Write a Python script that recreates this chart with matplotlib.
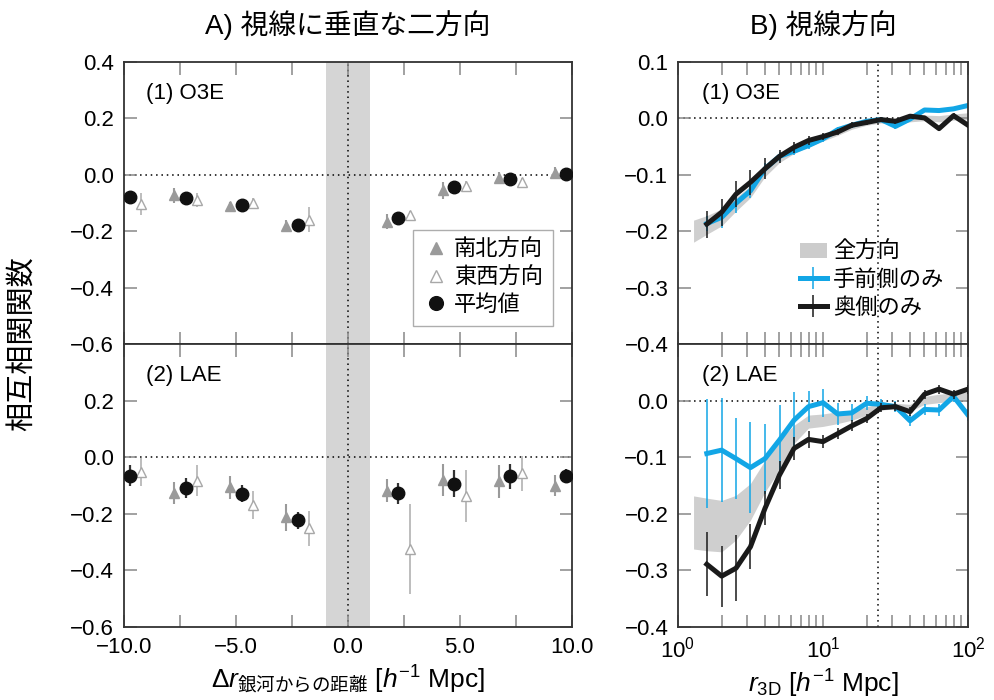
import numpy as np
import matplotlib.pyplot as plt
from matplotlib.ticker import FuncFormatter, NullFormatter, LogLocator
from matplotlib.patches import Patch

plt.rcParams['font.family'] = ['Liberation Sans', 'Noto Sans CJK JP']
plt.rcParams['mathtext.fontset'] = 'custom'
plt.rcParams['mathtext.rm'] = 'Liberation Sans'
plt.rcParams['mathtext.it'] = 'Liberation Sans:italic'
plt.rcParams['mathtext.bf'] = 'Liberation Sans:bold'
plt.rcParams['mathtext.sf'] = 'Noto Sans CJK JP'

# A) separation from galaxy (mean points), triangles sit 0.5 either side
sep = np.array([-9.75, -7.25, -4.75, -2.25, 2.25, 4.75, 7.25, 9.75])

# (1) O3E
o3e_ns = [-0.075, -0.072, -0.110, -0.180, -0.166, -0.054, -0.010, 0.007]
o3e_ns_err = [0.020, 0.027, 0.015, 0.020, 0.027, 0.030, 0.020, 0.020]
o3e_ew = [-0.103, -0.089, -0.101, -0.158, -0.143, -0.040, -0.026, 0.000]
o3e_ew_err = [0.038, 0.025, 0.020, 0.044, 0.015, 0.020, 0.015, 0.020]
o3e_mean = [-0.078, -0.080, -0.107, -0.177, -0.152, -0.042, -0.016, 0.003]
o3e_mean_err = [0.012, 0.012, 0.010, 0.012, 0.012, 0.012, 0.010, 0.010]

# (2) LAE
lae_ns = [-0.080, -0.125, -0.106, -0.212, -0.117, -0.079, -0.085, -0.100]
lae_ns_err = [0.040, 0.038, 0.041, 0.047, 0.040, 0.056, 0.060, 0.037]
lae_ew = [-0.052, -0.082, -0.167, -0.250, -0.324, -0.138, -0.055, -0.060]
lae_ew_err = [0.050, 0.055, 0.050, 0.062, 0.158, 0.092, 0.062, 0.050]
lae_mean = [-0.064, -0.107, -0.129, -0.223, -0.127, -0.093, -0.067, -0.065]
lae_mean_err = [0.038, 0.035, 0.030, 0.030, 0.038, 0.047, 0.043, 0.025]

# B) line of sight, r3D
r3d = [1.58, 2.0, 2.51, 3.16, 3.98, 5.01, 6.31, 7.94, 10.0, 12.6, 15.8,
       20.0, 25.1, 31.6, 39.8, 50.1, 63.1, 79.4, 100.0]
band_r = [1.28] + r3d

o3e_all_lo = [-0.219, -0.205, -0.190, -0.164, -0.140, -0.103, -0.078, -0.062, -0.050, -0.040,
              -0.030, -0.019, -0.012, -0.008, -0.011, -0.006, -0.004, -0.006, -0.003, -0.002]
o3e_all_hi = [-0.180, -0.172, -0.160, -0.140, -0.119, -0.086, -0.064, -0.050, -0.040, -0.030,
              -0.021, -0.011, -0.004, 0.000, -0.002, 0.004, 0.006, 0.005, 0.008, 0.010]
o3e_near = [-0.186, -0.175, -0.150, -0.128, -0.089, -0.067, -0.058, -0.048, -0.036, -0.020,
            -0.012, -0.005, -0.002, -0.014, -0.001, 0.015, 0.014, 0.017, 0.023]
o3e_near_err = [0.013, 0.019, 0.018, 0.012, 0.010, 0.008, 0.007, 0.006, 0.005, 0.005,
                0.004, 0.004, 0.004, 0.004, 0.004, 0.004, 0.004, 0.004, 0.004]
o3e_far = [-0.187, -0.166, -0.134, -0.113, -0.089, -0.067, -0.051, -0.039, -0.032, -0.024,
           -0.012, -0.007, -0.002, -0.005, 0.004, 0.001, -0.018, 0.005, -0.012]
o3e_far_err = [0.024, 0.024, 0.023, 0.022, 0.019, 0.012, 0.010, 0.008, 0.007, 0.006,
               0.005, 0.005, 0.004, 0.004, 0.004, 0.004, 0.004, 0.004, 0.004]

lae_all_lo = [-0.262, -0.265, -0.267, -0.246, -0.211, -0.161, -0.122, -0.075, -0.048, -0.045,
              -0.040, -0.034, -0.025, -0.016, -0.014, -0.018, -0.006, -0.003, 0.000, 0.002]
lae_all_hi = [-0.168, -0.172, -0.176, -0.167, -0.146, -0.105, -0.069, -0.043, -0.025, -0.023,
              -0.019, -0.019, -0.010, -0.004, -0.004, -0.006, 0.008, 0.012, 0.014, 0.016]
lae_near = [-0.093, -0.087, -0.102, -0.118, -0.102, -0.069, -0.034, -0.010, -0.003, -0.023,
            -0.021, -0.004, -0.006, -0.010, -0.035, -0.015, -0.016, 0.008, -0.025]
lae_near_err = [0.097, 0.092, 0.072, 0.080, 0.062, 0.061, 0.050, 0.028, 0.025, 0.020,
                0.015, 0.012, 0.010, 0.010, 0.010, 0.010, 0.010, 0.010, 0.010]
lae_far = [-0.289, -0.310, -0.296, -0.258, -0.190, -0.131, -0.084, -0.068, -0.072, -0.058,
           -0.044, -0.031, -0.012, -0.010, -0.019, 0.012, 0.021, 0.012, 0.021]
lae_far_err = [0.057, 0.054, 0.058, 0.040, 0.030, 0.025, 0.020, 0.015, 0.012, 0.010,
               0.010, 0.008, 0.008, 0.008, 0.008, 0.008, 0.008, 0.008, 0.008]

blue = '#12a6e6'
dotted = (0, (1, 2.5))

def minus_fmt(v, pos):
    return f'{v:.1f}'.replace('-', '\u2212')

fig = plt.figure(figsize=(9.94, 7.0), dpi=100)
axA1 = fig.add_axes([0.1247, 0.5079, 0.4507, 0.4036])
axA2 = fig.add_axes([0.1247, 0.1043, 0.4507, 0.4036])
axB1 = fig.add_axes([0.6821, 0.5079, 0.2918, 0.4036])
axB2 = fig.add_axes([0.6821, 0.1043, 0.2918, 0.4036])

for ax in (axA1, axA2, axB1, axB2):
    ax.tick_params(which='both', direction='in', top=True, right=True, length=9,
                   width=1.1, color='#888888', labelsize=16, pad=7)
    for s in ax.spines.values():
        s.set_color('#333333')
        s.set_linewidth(1.3)
    ax.axhline(0, color='k', ls=dotted, lw=1.1, zorder=1)

# A) two directions perpendicular to line of sight
panelsA = [(axA1, '(1) O3E', o3e_ns, o3e_ns_err, o3e_ew, o3e_ew_err, o3e_mean, o3e_mean_err),
           (axA2, '(2) LAE', lae_ns, lae_ns_err, lae_ew, lae_ew_err, lae_mean, lae_mean_err)]
for ax, name, ns, ns_e, ew, ew_e, mn, mn_e in panelsA:
    ax.axvspan(-1, 1, color='#d5d5d5', lw=0, zorder=0)
    ax.axvline(0, color='k', ls=dotted, lw=1.1, zorder=1)
    c1 = ax.errorbar(sep - 0.5, ns, yerr=ns_e, fmt='^', ms=7.5, color='#9a9a9a',
                     elinewidth=1.5, capsize=0, zorder=3)
    c2 = ax.errorbar(sep + 0.5, ew, yerr=ew_e, fmt='^', ms=7.5, mfc='white', mec='#a8a8a8',
                     mew=1.0, ecolor='#b8b8b8', elinewidth=1.3, capsize=0, zorder=3)
    c3 = ax.errorbar(sep, mn, yerr=mn_e, fmt='o', ms=9, color='#111111', ecolor='#333333',
                     elinewidth=1.6, capsize=0, zorder=4)
    ax.text(0.05, 0.89, name, transform=ax.transAxes, fontsize=16, va='center')
    ax.set_xlim(-10, 10)
    ax.set_ylim(-0.6, 0.4)
    ax.set_xticks(np.arange(-10, 10.1, 2.5))
    ax.xaxis.set_major_formatter(FuncFormatter(lambda v, p: minus_fmt(v, p) if v % 5 == 0 else ''))
    ax.yaxis.set_major_formatter(FuncFormatter(minus_fmt))

axA1.set_yticks([-0.6, -0.4, -0.2, 0.0, 0.2, 0.4])
axA2.set_yticks([-0.6, -0.4, -0.2, 0.0, 0.2])
axA1.tick_params(labelbottom=False)
leg = axA1.legend([c1[0], c2[0], c3[0]], ['南北方向', '東西方向', '平均値'], loc='lower right',
                  bbox_to_anchor=(0.958, 0.065), borderaxespad=0, fontsize=16, fancybox=False,
                  edgecolor='#999999', handletextpad=0.2, handlelength=1.2, labelspacing=0.3,
                  borderpad=0.45, markerscale=1.1)
leg.get_frame().set_linewidth(1.0)
axA1.set_title('A) 視線に垂直な二方向', fontsize=20, pad=20)
axA2.set_xlabel(r'$\Delta r_{\mathsf{銀河からの距離}}$ [$h^{-1}$ Mpc]', fontsize=19, labelpad=4)

# B) line of sight
panelsB = [(axB1, '(1) O3E', o3e_all_lo, o3e_all_hi, o3e_near, o3e_near_err, o3e_far, o3e_far_err),
           (axB2, '(2) LAE', lae_all_lo, lae_all_hi, lae_near, lae_near_err, lae_far, lae_far_err)]
for ax, name, lo, hi, near, near_e, far, far_e in panelsB:
    ax.set_xscale('log')
    ax.fill_between(band_r, lo, hi, color='#cfcfcf', lw=0, zorder=1)
    ax.axvline(24, color='k', ls=dotted, lw=1.1, zorder=1)
    e1 = ax.errorbar(r3d, near, yerr=near_e, color=blue, lw=3.6, elinewidth=1.1, capsize=0, zorder=2)
    e2 = ax.errorbar(r3d, far, yerr=far_e, color='#1a1a1a', lw=3.6, elinewidth=1.1, capsize=0, zorder=3)
    ax.text(0.083, 0.89, name, transform=ax.transAxes, fontsize=16, va='center')
    ax.set_xlim(1, 100)
    ax.xaxis.set_major_locator(LogLocator(base=10, numticks=5))
    ax.xaxis.set_minor_locator(LogLocator(base=10, subs=np.arange(2, 10), numticks=20))
    ax.xaxis.set_minor_formatter(NullFormatter())
    ax.yaxis.set_major_formatter(FuncFormatter(minus_fmt))

axB1.set_ylim(-0.4, 0.1)
axB2.set_ylim(-0.4, 0.1)
axB1.set_yticks([-0.4, -0.3, -0.2, -0.1, 0.0, 0.1])
axB2.set_yticks([-0.4, -0.3, -0.2, -0.1, 0.0])
axB1.tick_params(labelbottom=False)
axB1.legend([Patch(facecolor='#cccccc'), e1, e2], ['全方向', '手前側のみ', '奥側のみ'],
            loc='lower left', bbox_to_anchor=(0.39, 0.06), borderaxespad=0, frameon=False,
            fontsize=16, handlelength=1.2, handletextpad=0.3, labelspacing=0.3)
axB1.set_title('B) 視線方向', fontsize=20, pad=20)
axB2.set_xlabel(r'$r_{\mathrm{3D}}$ [$h^{-1}$ Mpc]', fontsize=19, labelpad=4)

fig.text(0.023, 0.509, '相互相関関数', rotation=90, fontsize=21, va='center', ha='center')

fig.savefig('out.png', dpi=100)
